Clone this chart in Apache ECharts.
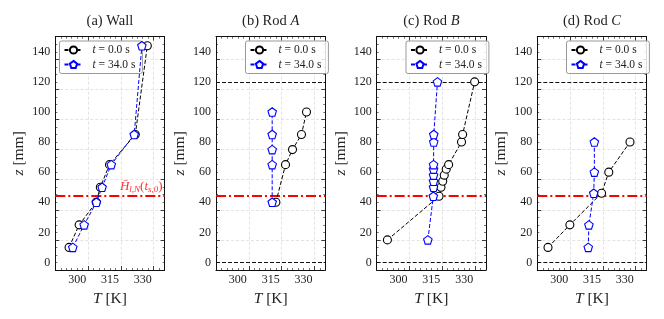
<!DOCTYPE html>
<html><head><meta charset="utf-8">
<script src="https://cdn.jsdelivr.net/npm/echarts@6/dist/echarts.min.js"></script>
<style>html,body{margin:0;padding:0;background:#fff}#c{width:664px;height:319px}</style>
</head><body><div id="c"></div>
<script>
// ---------------- data ----------------
const panelTitles = ['(a) Wall', '(b) Rod {i|A}', '(c) Rod {i|B}', '(d) Rod {i|C}'];
const seriesNames = ['t0', 't34'];
const legendTexts = { t0: '{i|t} = 0.0 s', t34: '{i|t} = 34.0 s' };

const xTickLabels = [300, 315, 330];
const yTickLabels = [0, 20, 40, 60, 80, 100, 120, 140];
const xRange = [290, 340];
const yRange = [-5, 150];

// (a) Wall
const wallZ   = [10, 25, 40, 50, 65, 85, 144];
const wallT0  = [296.3, 300.9, 308.7, 310.6, 314.8, 326.6, 332.1];
const wallT34 = [298.0, 303.2, 308.8, 311.4, 315.6, 326.1, 329.6];
// (b) Rod A
const rodAZ   = [40, 65, 75, 85, 100];
const rodAT0  = [317.4, 321.8, 325.0, 329.1, 331.4];
const rodAT34 = [315.7, 315.7, 315.7, 315.7, 315.7];
// (c) Rod B
const rodBZ   = [15, 44, 50, 54, 58, 62, 65, 80, 85, 120];
const rodBT0  = [294.9, 318.5, 319.4, 320.2, 320.9, 321.8, 322.9, 328.8, 329.3, 334.8];
const rodBT34 = [313.4, 315.9, 316.0, 316.0, 316.0, 316.0, 316.0, 316.1, 316.1, 317.8];
// (d) Rod C
const rodCZ   = [10, 25, 46, 60, 80];
const rodCT0  = [294.9, 304.9, 319.4, 322.7, 332.4];
const rodCT34 = [313.3, 313.6, 315.8, 316.1, 316.1];

const interfaceZ = 44;          // red dash-dot level
const rodLimits  = [0, 120];    // black dashed levels on rod panels

// ---------------- layout / style ----------------
const FONT = "'Liberation Serif', 'DejaVu Serif', serif";
const gridLeft = [55.3, 216, 376.7, 537.3];
const gridW = 109.3, gridTop = 36.7, gridH = 233.3;
const legendLeft = [59.5, 245.5, 406, 566.5];
const PENTAGON = 'path://M0,-1L0.951,-0.309L0.588,0.809L-0.588,0.809L-0.951,-0.309Z';

const panels = [
  { z: wallZ, t0: wallT0, t34: wallT34, rod: false },
  { z: rodAZ, t0: rodAT0, t34: rodAT34, rod: true },
  { z: rodBZ, t0: rodBT0, t34: rodBT34, rod: true },
  { z: rodCZ, t0: rodCT0, t34: rodCT34, rod: true }
];

const grid = [], xAxis = [], yAxis = [], series = [], title = [], legend = [];

panels.forEach((p, i) => {
  grid.push({ left: gridLeft[i], top: gridTop, width: gridW, height: gridH, containLabel: false, outerBoundsMode: 'none' });
  title.push({
    text: panelTitles[i], left: gridLeft[i] + gridW / 2, top: 13.5, textAlign: 'center', padding: 0,
    textStyle: { fontFamily: FONT, fontSize: 14.5, fontWeight: 'normal', color: '#222',
      rich: { i: { fontFamily: FONT, fontSize: 14.5, fontStyle: 'italic', color: '#222' } } }
  });
  const axLine = { show: true, onZero: false, lineStyle: { color: '#111', width: 1 } };
  ['bottom', 'top'].forEach((pos, k) => {
    xAxis.push({
      gridIndex: i, type: 'value', position: pos, min: xRange[0], max: xRange[1], interval: 15,
      axisLine: axLine,
      axisTick: { show: true, inside: true, length: 4, lineStyle: { color: '#111', width: 0.8 } },
      minorTick: { show: true, splitNumber: 6, length: 2, lineStyle: { color: '#111', width: 0.6 } },
      axisLabel: k === 0 ? {
        show: true, margin: 4, fontFamily: FONT, fontSize: 12, color: '#222',
        customValues: xTickLabels
      } : { show: false },
      splitLine: k === 0 ? { show: true, lineStyle: { color: '#dcdcdc', type: [3, 2], width: 0.8 } } : { show: false },
      name: k === 0 ? '{i|T} [K]' : '', nameLocation: 'middle', nameGap: 18,
      nameTextStyle: { fontFamily: FONT, fontSize: 15.5, color: '#222',
        rich: { i: { fontFamily: FONT, fontSize: 15.5, fontStyle: 'italic', color: '#222' } } }
    });
  });
  ['left', 'right'].forEach((pos, k) => {
    yAxis.push({
      gridIndex: i, type: 'value', position: pos, min: yRange[0], max: yRange[1], interval: 20,
      axisLine: axLine,
      axisTick: { show: true, inside: true, length: 4, lineStyle: { color: '#111', width: 0.8 } },
      minorTick: { show: true, splitNumber: 4, length: 2, lineStyle: { color: '#111', width: 0.6 } },
      axisLabel: k === 0 ? {
        show: true, margin: 5, fontFamily: FONT, fontSize: 12, color: '#222',
        customValues: yTickLabels
      } : { show: false },
      splitLine: k === 0 ? { show: true, lineStyle: { color: '#dcdcdc', type: [3, 2], width: 0.8 } } : { show: false },
      name: k === 0 ? '{i|z} [mm]' : '', nameLocation: 'middle', nameGap: 28, nameRotate: 90,
      nameTextStyle: { fontFamily: FONT, fontSize: 15.5, color: '#222',
        rich: { i: { fontFamily: FONT, fontSize: 15.5, fontStyle: 'italic', color: '#222' } } }
    });
  });

  const mlData = [{
    yAxis: interfaceZ,
    lineStyle: { color: '#ff0000', width: 2, type: [10, 3, 2, 3] },
    label: i === 0 ? {
      show: true, position: 'insideEndTop', distance: 2, color: '#ff3030',
      formatter: '{h|H\u0304}{s|l,N}{n|(}{h|t}{s|s,0}{n|)}',
      rich: {
        h: { fontFamily: FONT, fontSize: 13, fontStyle: 'italic', color: '#ff3030', lineHeight: 15 },
        n: { fontFamily: FONT, fontSize: 13, color: '#ff3030', lineHeight: 15 },
        s: { fontFamily: FONT, fontSize: 9, fontStyle: 'italic', color: '#ff3030', lineHeight: 15, verticalAlign: 'bottom' }
      }
    } : { show: false }
  }];
  if (p.rod) {
    rodLimits.forEach(v => mlData.push({ yAxis: v, lineStyle: { color: '#111', width: 1.2, type: [4, 2] } }));
  }

  series.push({
    type: 'line', name: 't0', xAxisIndex: 2 * i, yAxisIndex: 2 * i,
    data: p.z.map((z, j) => [p.t0[j], z]),
    color: '#000',
    lineStyle: { color: '#000', width: 1, type: [4, 2] },
    symbol: 'circle', symbolSize: 8,
    itemStyle: { color: '#fff', borderColor: '#000', borderWidth: 1.1 },
    z: 3,
    markLine: { silent: true, symbol: ['none', 'none'], label: { show: false }, data: mlData, z: 2 }
  });
  series.push({
    type: 'line', name: 't34', xAxisIndex: 2 * i, yAxisIndex: 2 * i,
    data: p.z.map((z, j) => [p.t34[j], z]),
    color: '#0000ff',
    lineStyle: { color: '#0000ff', width: 1, type: [4, 2] },
    symbol: PENTAGON, symbolSize: 8.5,
    itemStyle: { color: '#fff', borderColor: '#0000ff', borderWidth: 1.1 },
    z: 4
  });

  legend.push({
    left: legendLeft[i], top: 41, orient: 'vertical', data: seriesNames,
    formatter: n => legendTexts[n],
    padding: [3, 7, 3, 4], itemGap: 2.5, itemWidth: 18, itemHeight: 9,
    borderColor: '#999', borderWidth: 1, borderRadius: 2, backgroundColor: 'rgba(255,255,255,0.85)',
    selectedMode: false,
    textStyle: { fontFamily: FONT, fontSize: 11.5, color: '#222', padding: [0, 0, 0, 5],
      rich: { i: { fontFamily: FONT, fontSize: 11.5, fontStyle: 'italic', color: '#222' } } }
  });
});

const chart = echarts.init(document.getElementById('c'), null, { renderer: 'canvas' });
chart.setOption({ animation: false, backgroundColor: '#fff', title, legend, grid, xAxis, yAxis, series });
</script>
</body></html>
